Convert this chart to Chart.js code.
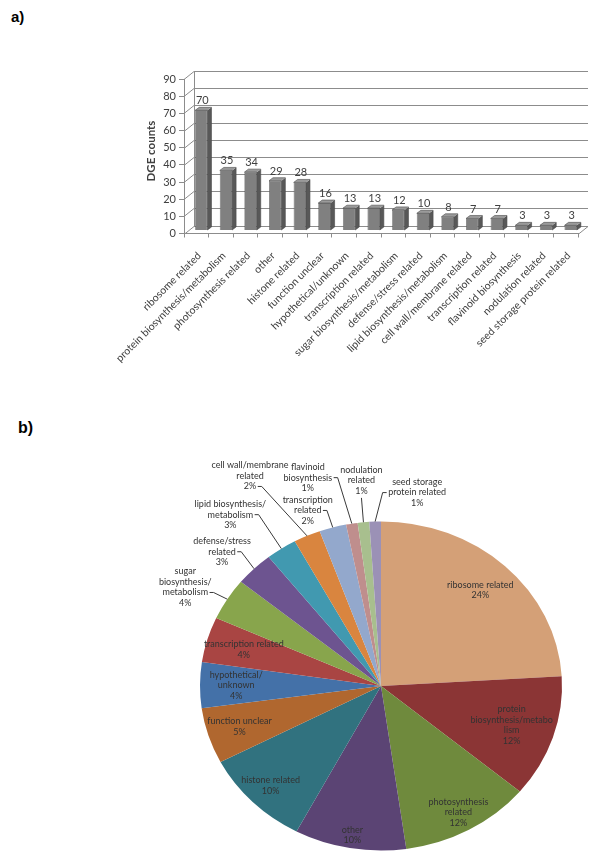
<!DOCTYPE html>
<html><head><meta charset="utf-8">
<script src="https://cdn.jsdelivr.net/npm/chart.js@4"></script>
<style>
html,body{margin:0;padding:0;background:#fff;overflow:hidden;width:600px;height:863px;}
#wrap{position:relative;width:600px;height:863px;overflow:hidden;}
.lbl{position:absolute;font-family:Arial,"Liberation Sans",sans-serif;font-weight:bold;color:#000;line-height:1;}
#ca{position:absolute;left:0;top:0;}
#cb{position:absolute;left:0;top:340px;}
</style></head><body><div id="wrap">
<div class="lbl" style="left:11px;top:9px;font-size:15px">a)</div>
<div class="lbl" style="left:18px;top:420px;font-size:16px">b)</div>
<canvas id="ca" width="600" height="400" style="width:600px;height:400px"></canvas>
<canvas id="cb" width="600" height="530" style="width:600px;height:530px"></canvas>
</div>
<script>
// ---------- data ----------
const categories = ["ribosome related","protein biosynthesis/metabolism","photosynthesis related","other","histone related","function unclear","hypothetical/unknown","transcription related","sugar biosynthesis/metabolism","defense/stress related","lipid biosynthesis/metabolism","cell wall/membrane related","transcription related","flavinoid biosynthesis","nodulation related","seed storage protein related"];
const dgeCounts = [70,35,34,29,28,16,13,13,12,10,8,7,7,3,3,3];
const yAxisMax = 90;
const yAxisStep = 10;
const yAxisTitle = "DGE counts";
const pieLabelLines = [
  ["ribosome related"],
  ["protein","biosynthesis/metabo","lism"],
  ["photosynthesis","related"],
  ["other"],
  ["histone related"],
  ["function unclear"],
  ["hypothetical/","unknown"],
  ["transcription related"],
  ["sugar","biosynthesis/","metabolism"],
  ["defense/stress","related"],
  ["lipid biosynthesis/","metabolism"],
  ["cell wall/membrane","related"],
  ["transcription","related"],
  ["flavinoid","biosynthesis"],
  ["nodulation","related"],
  ["seed storage","protein related"]
];
const pieColors = ['#D4A077','#8B3535','#6F8A3D','#5B4474','#31727F','#B0672F','#4471A8','#A94543','#88A54C','#6D5490','#4199B0','#D9853F','#93A8CC','#BF8E8D','#A8BF8E','#9B91B6'];

const FONT = 'Lato, "Open Sans", sans-serif';
const TXT = '#404040';

// ---------- chart a: 3D-look column chart ----------
const D = {x:10, y:-8};        // floor depth
const SHIFT = {x:5, y:-3};     // bar front plane shift
const BD = {x:4, y:-3};        // bar depth
const threeD = {
  id:'threeD',
  beforeDatasetsDraw(chart){
    const {ctx, chartArea:a, scales:{y}} = chart;
    ctx.save();
    ctx.strokeStyle = '#8c8c8c'; ctx.lineWidth = 1;
    const ln=(x1,y1,x2,y2)=>{ctx.beginPath();ctx.moveTo(x1,y1);ctx.lineTo(x2,y2);ctx.stroke();};
    y.ticks.forEach(t=>{
      const py = Math.round(y.getPixelForValue(t.value))+0.5;
      ln(a.left, py, a.left+D.x, py+D.y);
      ln(a.left+D.x, py+D.y, a.right+D.x, py+D.y);
    });
    const top = Math.round(y.getPixelForValue(yAxisMax))+0.5, bot = Math.round(a.bottom)+0.5;
    ln(a.left+D.x+0.5, top+D.y, a.left+D.x+0.5, bot+D.y);
    ln(a.right, bot, a.right+D.x, bot+D.y);
    ctx.restore();
    ctx.save();
    ctx.translate(SHIFT.x, SHIFT.y);
  },
  afterDatasetsDraw(chart){
    const {ctx} = chart;
    const meta = chart.getDatasetMeta(0);
    meta.data.forEach(el=>{
      const {x,y,base,width} = el.getProps(['x','y','base','width'],true);
      const l = x-width/2, r = x+width/2;
      ctx.fillStyle = '#585858';
      ctx.beginPath(); ctx.moveTo(r,y); ctx.lineTo(r+BD.x,y+BD.y); ctx.lineTo(r+BD.x,base+BD.y); ctx.lineTo(r,base); ctx.closePath(); ctx.fill();
      ctx.fillStyle = '#9a9a9a';
      ctx.beginPath(); ctx.moveTo(l,y); ctx.lineTo(l+BD.x,y+BD.y); ctx.lineTo(r+BD.x,y+BD.y); ctx.lineTo(r,y); ctx.closePath(); ctx.fill();
      ctx.strokeStyle = '#4a4a4a'; ctx.lineWidth = 0.6;
      ctx.beginPath(); ctx.moveTo(l,y); ctx.lineTo(l+BD.x,y+BD.y); ctx.lineTo(r+BD.x,y+BD.y); ctx.lineTo(r+BD.x,base+BD.y); ctx.lineTo(r,base); ctx.lineTo(r,y); ctx.closePath(); ctx.stroke();
    });
    ctx.fillStyle = TXT; ctx.font = '11px '+FONT; ctx.textAlign='center'; ctx.textBaseline='bottom';
    meta.data.forEach((el,i)=>{
      ctx.fillText(String(dgeCounts[i]), el.x+1, el.y-4);
    });
    ctx.restore();
    // y axis title
    ctx.save();
    ctx.translate(151, 151); ctx.rotate(-Math.PI/2);
    ctx.font = 'bold 11.5px '+FONT; ctx.fillStyle = TXT; ctx.textAlign='center'; ctx.textBaseline='middle';
    ctx.fillText(yAxisTitle, 0, 0);
    ctx.restore();
  }
};

new Chart(document.getElementById('ca'), {
  type:'bar',
  data:{labels:categories, datasets:[{data:dgeCounts, backgroundColor:'#808080', borderColor:'#4a4a4a', borderWidth:0.6, categoryPercentage:1, barPercentage:0.5, clip:false}]},
  options:{
    responsive:false, animation:false, events:[],
    layout:{padding:{left:0, top:79, right:22, bottom:0}},
    plugins:{legend:{display:false}, tooltip:{enabled:false}},
    scales:{
      x:{
        grid:{display:true, drawOnChartArea:false, drawTicks:true, tickLength:4, color:'#8c8c8c'},
        border:{display:true, color:'#8c8c8c'},
        ticks:{autoSkip:false, minRotation:45, maxRotation:45, color:TXT, font:{family:FONT, size:10.5}, padding:12, labelOffset:3},
        afterFit(s){ s.height = 166.5; }
      },
      y:{
        min:0, max:yAxisMax,
        grid:{display:true, drawOnChartArea:false, drawTicks:true, tickLength:5, color:'#8c8c8c'},
        border:{display:true, color:'#8c8c8c'},
        ticks:{stepSize:yAxisStep, color:TXT, font:{family:FONT, size:11}, padding:3},
        afterFit(s){ s.width = 184; }
      }
    }
  },
  plugins:[threeD]
});

// ---------- chart b: pie ----------
const YSCALE = 164.5/181;
const total = dgeCounts.reduce((s,v)=>s+v,0);
const pieLayout = [
  {r:0.80},{r:0.76},{r:0.88},{r:0.92},{r:0.86},{r:0.82},{r:0.80},{r:0.79},
  {dx:-42,dy:-12,attach:'right',line:2},
  {dx:-32,dy:-17,attach:'right',line:1},
  {dx:-51,dy:-34,attach:'right',line:1},
  {dx:-57,dy:-60,attach:'right',line:2},
  {dx:-25,dy:-17,attach:'right',line:1},
  {dx:-44,dy:-46,attach:'right',line:1},
  {dx:-2,dy:-42,attach:'bottom'},
  {dx:42,dy:-29,attach:'left',line:1}
];
const ellipse = {
  id:'ellipse',
  beforeDatasetsDraw(chart){
    const el = chart.getDatasetMeta(0).data[0];
    const ctx = chart.ctx; ctx.save();
    ctx.translate(el.x, el.y); ctx.scale(1, YSCALE); ctx.translate(-el.x, -el.y);
  },
  afterDatasetsDraw(chart){
    const ctx = chart.ctx; ctx.restore();
    const meta = chart.getDatasetMeta(0);
    const LH = 10.6;
    ctx.save();
    ctx.font = '9px '+FONT; ctx.fillStyle = '#333'; ctx.textAlign='center'; ctx.textBaseline='middle';
    ctx.strokeStyle = '#3a3a3a'; ctx.lineWidth = 1;
    meta.data.forEach((arc,i)=>{
      const mid = (arc.startAngle+arc.endAngle)/2;
      const R = arc.outerRadius;
      const lines = pieLabelLines[i].concat([Math.round(dgeCounts[i]/total*100)+'%']);
      const L = pieLayout[i];
      let cx, cy;
      if (L.r !== undefined){
        cx = arc.x + R*L.r*Math.cos(mid);
        cy = arc.y + R*L.r*Math.sin(mid)*YSCALE;
      } else {
        const ax = arc.x + R*Math.cos(mid), ay = arc.y + R*Math.sin(mid)*YSCALE;
        cx = ax + L.dx; cy = ay + L.dy;
        const y0 = cy - (lines.length-1)*LH/2;
        ctx.beginPath();
        if (L.attach==='bottom'){
          const by = y0 + (lines.length-1)*LH + 7;
          ctx.moveTo(cx, by); ctx.lineTo(ax, ay);
        } else {
          const ly = y0 + L.line*LH;
          const w = ctx.measureText(lines[L.line]).width;
          if (L.attach==='right'){
            const xr = cx + w/2 + 1.5;
            ctx.moveTo(xr, ly); ctx.lineTo(xr+4, ly); ctx.lineTo(ax, ay);
          } else {
            const xl = cx - w/2 - 1.5;
            ctx.moveTo(xl, ly); ctx.lineTo(xl-4, ly); ctx.lineTo(ax, ay);
          }
        }
        ctx.stroke();
      }
      const y0 = cy - (lines.length-1)*LH/2;
      lines.forEach((t,k)=>ctx.fillText(t, cx, y0+k*LH));
    });
    ctx.restore();
  }
};

new Chart(document.getElementById('cb'), {
  type:'pie',
  data:{labels:categories, datasets:[{data:dgeCounts, backgroundColor:pieColors, borderWidth:0}]},
  options:{
    responsive:false, animation:false, events:[],
    layout:{padding:{left:200, right:38, top:165, bottom:3}},
    plugins:{legend:{display:false}, tooltip:{enabled:false}}
  },
  plugins:[ellipse]
});
</script>
</body></html>
